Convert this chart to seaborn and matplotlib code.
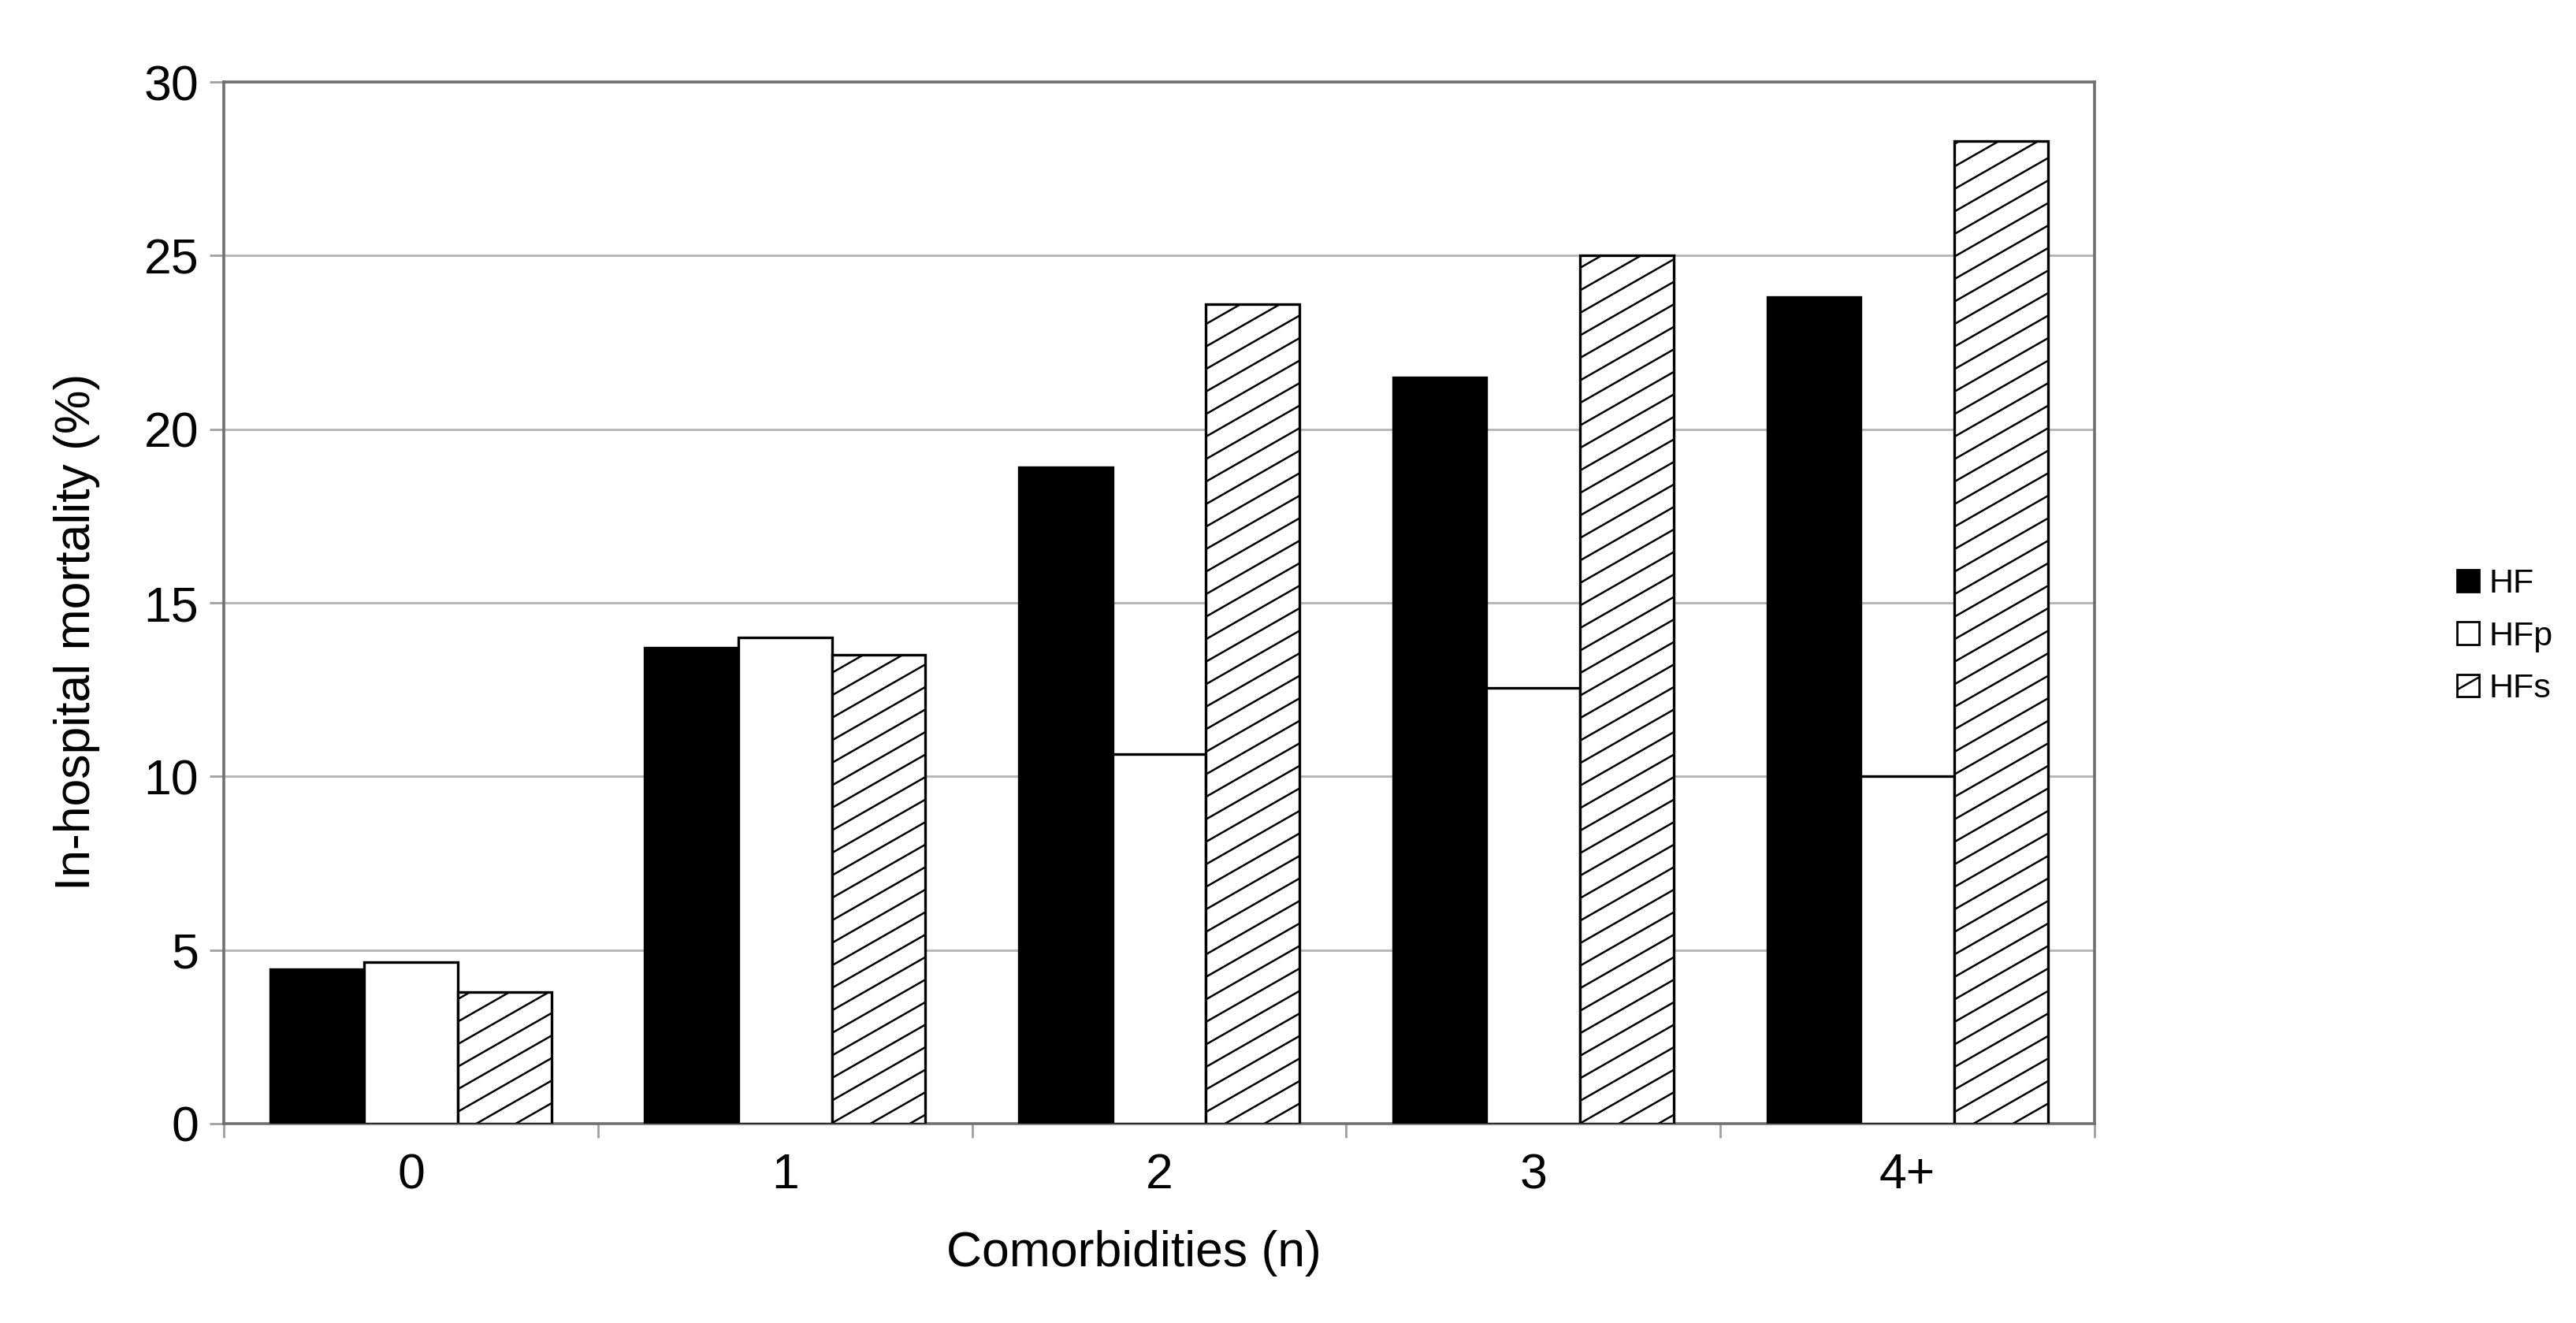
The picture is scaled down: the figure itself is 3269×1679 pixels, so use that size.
import matplotlib
matplotlib.use("Agg")
import numpy as np
import pandas as pd
import seaborn as sns
from matplotlib import pyplot as plt
from matplotlib import hatch as mhatch
from matplotlib.path import Path
from matplotlib.patches import Patch
from matplotlib.ticker import FixedLocator

# Datos
comorbidities = ["0", "1", "2", "3", "4+"]
hf = [4.45, 13.7, 18.9, 21.5, 23.8]
hfp = [4.65, 14.0, 10.65, 12.55, 10.0]
hfs = [3.8, 13.5, 23.6, 25.0, 28.3]
groups = ["HF", "HFp", "HFs"]

df = pd.DataFrame({
    "comorb": comorbidities * 3,
    "mortality": hf + hfp + hfs,
    "group": [g for g in groups for _ in comorbidities],
})


# Rayado '/' mas plano (~30 grados) como en el original
class ShallowHatch(mhatch.HatchPatternBase):
    def __init__(self, hatch, density):
        self.num_lines = 12 if "/" in hatch else 0
        self.num_vertices = self.num_lines * 2

    def set_vertices_and_codes(self, vertices, codes):
        k = np.arange(-4, 8) / 7
        vertices[0::2, 0] = 0
        vertices[0::2, 1] = k
        vertices[1::2, 0] = 1
        vertices[1::2, 1] = k + 4 / 7
        codes[0::2] = Path.MOVETO
        codes[1::2] = Path.LINETO


mhatch._hatch_types[mhatch._hatch_types.index(mhatch.NorthEastHatch)] = ShallowHatch

sns.set_theme(style="white")
plt.rcParams["font.family"] = ["Liberation Sans", "DejaVu Sans"]
plt.rcParams["hatch.linewidth"] = 0.9
plt.rcParams["hatch.color"] = "black"
plt.rcParams["text.color"] = "black"
plt.rcParams["axes.labelcolor"] = "black"

fig = plt.figure(figsize=(16.345, 8.395), dpi=200)
ax = fig.add_axes([0.0869, 0.1507, 0.7262, 0.7873])

sns.barplot(data=df, x="comorb", y="mortality", hue="group", order=comorbidities,
            hue_order=groups, palette=["black", "white", "white"], width=0.75,
            saturation=1, edgecolor="black", linewidth=1.2, legend=False, ax=ax, zorder=3)

# Estilo de cada serie
hatches = [None, None, "/"]
for cont, h in zip(ax.containers, hatches):
    for bar in cont:
        if h:
            bar.set_hatch(h)

ax.set_xlim(-0.5, 4.5)
ax.set_ylim(0, 30)
ax.set_yticks(range(0, 31, 5))
ax.yaxis.grid(True, color="#b3b3b3", linewidth=1.0, zorder=0)
ax.set_axisbelow(True)

for s in ax.spines.values():
    s.set_visible(True)
    s.set_color("#707070")
    s.set_linewidth(1.3)

ax.tick_params(axis="y", which="major", length=6.5, width=1.0, color="#a0a0a0",
               labelcolor="black", labelsize=22.5, pad=5, left=True)
ax.tick_params(axis="x", which="major", length=0, labelcolor="black", labelsize=22.5, pad=13)
ax.xaxis.set_minor_locator(FixedLocator([-0.5, 0.5, 1.5, 2.5, 3.5, 4.5]))
ax.tick_params(axis="x", which="minor", length=6.5, width=1.0, color="#a0a0a0", bottom=True)

ax.set_xlabel("Comorbidities (n)", fontsize=22.5)
ax.set_ylabel("In-hospital mortality (%)", fontsize=22.5)
ax.xaxis.set_label_coords(0.4865, -0.102)
ax.yaxis.set_label_coords(-0.066, 0.472)

handles = [
    Patch(facecolor="black", edgecolor="black", linewidth=1.0),
    Patch(facecolor="white", edgecolor="black", linewidth=1.0),
    Patch(facecolor="white", edgecolor="black", linewidth=1.0, hatch="/"),
]
fig.legend(handles, groups, loc="center left", bbox_to_anchor=(0.9538, 0.519),
           bbox_transform=fig.transFigure, frameon=False, fontsize=15.5,
           handlelength=0.64, handleheight=0.64, handletextpad=0.3,
           labelspacing=0.62, borderpad=0, borderaxespad=0)

fig.savefig("out.png", dpi=200)
